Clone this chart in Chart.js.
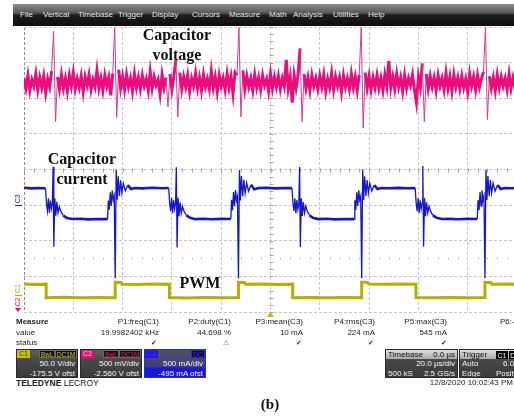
<!DOCTYPE html>
<html>
<head>
<meta charset="utf-8">
<script src="https://cdn.jsdelivr.net/npm/chart.js@4.4.1/dist/chart.umd.min.js"></script>
<style>
html, body { margin: 0; padding: 0; width: 514px; height: 420px; overflow: hidden; background: #fff; }
body { position: relative; font-family: "Liberation Sans", Arial, sans-serif; color: #1c1c1c; }
#menu { position: absolute; left: 13px; top: 4px; width: 501px; height: 22px;
  background: linear-gradient(#8c8c8c, #5c5c5c 38%, #1c1c1c 52%, #0e0e0e); }
.mi { position: absolute; top: 11px; font-size: 8px; line-height: 8px; color: #e6e6e6; }
#scope-wrap { position: absolute; left: 0; top: 27px; width: 517px; height: 292px; }
.note { position: absolute; font-family: "Liberation Serif", "Times New Roman", serif; font-weight: bold;
  font-size: 16px; line-height: 20px; color: #111; text-align: center; white-space: nowrap; }
.t { position: absolute; font-size: 8px; line-height: 10px; white-space: nowrap; }
.r { text-align: right; }
.box { position: absolute; top: 349px; height: 29px; overflow: hidden;
  background: linear-gradient(#5e5e5e, #474747 40%, #3a3a3a); border: 1px solid #2a2a2a; box-sizing: border-box; }
.box .t { color: #f2f2f2; }
.tab { position: absolute; left: 0; top: 0; width: 13px; height: 8px; font-size: 7px; line-height: 8px; text-align: center; }
.tag { position: absolute; top: 0; height: 8px; font-size: 6.5px; line-height: 8px; text-align: center;
  background: #111; border: 1px solid #6a6a6a; box-sizing: border-box; }
.hdr { position: absolute; left: 0; top: 0; width: 100%; height: 9px; background: linear-gradient(#e0e0e0, #a8a8a8); }
.hdr .t { color: #111; line-height: 9px; }
</style>
</head>
<body>

<div id="menu"></div>
<span class="mi" style="left:20px">File</span>
<span class="mi" style="left:43px">Vertical</span>
<span class="mi" style="left:78px">Timebase</span>
<span class="mi" style="left:118px">Trigger</span>
<span class="mi" style="left:152px">Display</span>
<span class="mi" style="left:192px">Cursors</span>
<span class="mi" style="left:229px">Measure</span>
<span class="mi" style="left:269px">Math</span>
<span class="mi" style="left:293px">Analysis</span>
<span class="mi" style="left:333px">Utilities</span>
<span class="mi" style="left:368px">Help</span>

<div id="scope-wrap"><canvas id="scope"></canvas></div>

<div class="note" style="left:137px; top:25px; width:80px">Capacitor<br>voltage</div>
<div class="note" style="left:42px; top:149px; width:80px">Capacitor<br>current</div>
<div class="note" style="left:170px; top:273px; width:60px">PWM</div>

<!-- measurement table -->
<div class="t" style="left:16px; top:317px; font-weight:bold">Measure</div>
<div class="t" style="left:16px; top:328px">value</div>
<div class="t" style="left:16px; top:338px">status</div>

<div class="t r" style="right:355px; top:317px">P1:freq(C1)</div>
<div class="t r" style="right:283px; top:317px">P2:duty(C1)</div>
<div class="t r" style="right:211px; top:317px">P3:mean(C3)</div>
<div class="t r" style="right:139px; top:317px">P4:rms(C3)</div>
<div class="t r" style="right:67px; top:317px">P5:max(C3)</div>
<div class="t" style="left:500px; top:317px">P6:- -</div>

<div class="t r" style="right:355px; top:328px">19.9982402 kHz</div>
<div class="t r" style="right:283px; top:328px">44.698 %</div>
<div class="t r" style="right:211px; top:328px">10 mA</div>
<div class="t r" style="right:139px; top:328px">224 mA</div>
<div class="t r" style="right:67px; top:328px">545 mA</div>

<div class="t" style="left:151px; top:338px; font-family:'DejaVu Sans'; font-size:7px; color:#333">✔</div>
<div class="t" style="left:223px; top:338px; font-family:'DejaVu Sans'; font-size:7px; color:#666">⚠</div>
<div class="t" style="left:296px; top:338px; font-family:'DejaVu Sans'; font-size:7px; color:#333">✔</div>
<div class="t" style="left:368px; top:338px; font-family:'DejaVu Sans'; font-size:7px; color:#333">✔</div>
<div class="t" style="left:441px; top:338px; font-family:'DejaVu Sans'; font-size:7px; color:#333">✔</div>

<!-- channel descriptors -->
<div class="box" style="left:16px; width:62px">
  <div class="tab" style="background:#c9c000; color:#3a3500">C1</div>
  <div class="tag" style="left:22px; width:16px; color:#d6cc00">BwL</div>
  <div class="tag" style="left:38px; width:22px; color:#d6cc00">DC1M</div>
  <div class="t r" style="right:2px; top:9px">50.0 V/div</div>
  <div class="t r" style="right:2px; top:19px">-175.5 V ofst</div>
</div>
<div class="box" style="left:80px; width:62px">
  <div class="tab" style="background:#e0127a; color:#ffc2e0">C2</div>
  <div class="tag" style="left:22px; width:16px; color:#e8146e">BwL</div>
  <div class="tag" style="left:38px; width:22px; color:#e8146e">DC1M</div>
  <div class="t r" style="right:2px; top:9px">500 mV/div</div>
  <div class="t r" style="right:2px; top:19px">-2.560 V ofst</div>
</div>
<div class="box" style="left:144px; width:62px; border-color:#2a2ae0;
  background:linear-gradient(#50506a, #3e3e78 62%, #1a1ad6 66%, #1414e0)">
  <div class="tab" style="background:#1c1ce0; color:#3030ff">C3</div>
  <div class="tag" style="left:46px; width:14px; color:#3434ff; background:#0c0c3a; border-color:#2a2a9a">DC</div>
  <div class="t r" style="right:2px; top:9px">500 mA/div</div>
  <div class="t r" style="right:2px; top:19px">-495 mA ofst</div>
</div>

<div class="box" style="left:385px; width:73px">
  <div class="hdr">
    <div class="t" style="left:2px; top:0">Timebase</div>
    <div class="t r" style="right:2px; top:0">0.0 µs</div>
  </div>
  <div class="t r" style="right:2px; top:9px">20.0 µs/div</div>
  <div class="t" style="left:2px; top:19px">500 kS</div>
  <div class="t r" style="right:2px; top:19px">2.5 GS/s</div>
</div>
<div class="box" style="left:459px; width:62px">
  <div class="hdr">
    <div class="t" style="left:2px; top:0">Trigger</div>
    <div class="tag" style="left:36px; top:0.5px; width:12px; color:#fff; background:#000; border-color:#000">C1</div>
    <div class="tag" style="left:49px; top:0.5px; width:12px; color:#fff; background:#000; border-color:#000">DC</div>
  </div>
  <div class="t" style="left:2px; top:9px">Auto</div>
  <div class="t" style="left:43px; top:9px">6.0</div>
  <div class="t" style="left:2px; top:19px">Edge</div>
  <div class="t" style="left:36px; top:19px">Positive</div>
</div>

<div class="t" style="left:16px; top:378px; font-size:8.5px; color:#222"><b>TELEDYNE</b> LECROY</div>
<div class="t r" style="right:1px; top:378px; color:#222">12/8/2020 10:02:43 PM</div>

<div class="note" style="left:240px; top:394px; width:60px; font-size:15px">(b)</div>

<script>
// channel setup: C1 = PWM, C2 = capacitor voltage, C3 = capacitor current
const channelNames = ['C1', 'C2', 'C3'];
const channelColors = ['#b8ae00', '#ee0c7c', '#1616cc'];
const perDiv = [50, 0.5, 500];          // V/div, V/div, mA/div
const offsets = [-175.5, -2.56, -495];  // V, V, mA
const timePerDiv = 20;                  // µs/div
const timeRange = [-100, 100];          // µs
const vertDivs = [-4, 4];

// C2 record, sampled every 0.8 µs from -100 µs (V)
const c2Step = 0.8;
const c2Volts = [
  3.84, 3.70, 3.88, 3.67, 3.82, 3.73, 3.90, 3.68, 3.85, 3.71,
  3.87, 3.64, 3.83, 3.72, 3.94, 4.50, 3.23, 3.86, 3.69, 3.89,
  3.70, 3.84, 3.66, 3.88, 3.73, 3.92, 3.69, 3.83, 3.71, 3.87,
  3.65, 3.86, 3.74, 3.89, 3.68, 3.82, 3.72, 3.95, 3.70, 3.84,
  3.67, 3.88, 3.73, 3.85, 3.60, 3.91, 4.55, 3.29, 3.96, 3.70,
  3.86, 3.68, 3.89, 3.72, 3.84, 3.66, 3.90, 3.71, 3.85, 3.69,
  3.88, 3.73, 3.83, 3.67, 3.93, 3.70, 3.86, 3.74, 3.82, 3.62,
  3.89, 3.71, 3.85, 3.44, 3.90, 3.68, 3.87, 4.10, 3.30, 3.92,
  3.69, 3.86, 3.72, 3.88, 3.66, 3.84, 3.73, 3.91, 3.70, 3.85,
  3.67, 3.89, 3.72, 3.83, 3.69, 3.94, 3.71, 3.86, 3.65, 3.88,
  3.73, 3.84, 3.68, 3.90, 3.71, 3.86, 3.62, 3.92, 3.88, 4.55,
  3.30, 3.95, 3.69, 3.87, 3.72, 3.84, 3.67, 3.89, 3.71, 3.85,
  3.68, 3.88, 3.74, 3.83, 3.66, 3.90, 3.70, 3.86, 3.72, 3.87,
  3.69, 3.84, 3.73, 4.10, 3.70, 3.86, 3.50, 3.88, 3.71, 3.89,
  4.26, 3.23, 3.90, 3.70, 3.85, 3.67, 3.88, 3.73, 3.84, 3.69,
  3.87, 3.72, 3.89, 3.66, 3.83, 3.71, 3.91, 3.68, 3.86, 3.73,
  3.85, 3.65, 3.88, 3.72, 3.84, 3.69, 3.90, 3.71, 3.86, 3.67,
  3.89, 4.55, 3.14, 3.92, 3.70, 3.87, 3.68, 3.85, 3.71, 3.88,
  3.70, 3.84, 3.67, 3.89, 3.73, 4.08, 3.71, 3.86, 3.69, 3.90,
  3.72, 3.85, 3.66, 3.88, 3.70, 3.84, 3.74, 3.89, 3.68, 3.50,
  3.86, 3.71, 4.05, 3.23, 3.90, 3.69, 3.87, 3.72, 3.85, 3.67,
  3.88, 3.73, 3.84, 3.68, 3.91, 3.70, 3.86, 3.66, 3.89, 3.72,
  3.85, 3.69, 3.87, 3.71, 3.83, 3.65, 3.90, 3.73, 3.86, 3.68,
  3.88, 3.72, 3.84, 3.93, 4.55, 3.26, 3.87, 3.70, 3.85, 3.67,
  3.89, 3.71, 3.86, 3.73, 3.84, 3.68, 3.90, 3.70, 3.85, 3.72, 3.87
];

// C3 capacitor current [µs, mA]
const c3Trace = [
  [-100, 238], [-97, 230], [-94, 236], [-91.3, 232],
  [-90.9, 25], [-90.5, -85], [-90.1, 90], [-89.7, -115], [-89.3, 60], [-88.9, -55], [-88.5, 20],
  [-88.2, 535], [-87.9, -590], [-87.5, 90], [-87.1, -155], [-86.7, 40], [-86.2, -112], [-85.7, -25],
  [-85.1, -90], [-84.1, -150], [-82.6, -185], [-80.5, -200], [-77, -196], [-74, -205], [-70, -199],
  [-66.1, -201],
  [-65.8, 60], [-65.4, -70], [-65.0, 175], [-64.6, -15], [-64.2, 200], [-63.8, 70], [-63.4, 125],
  [-63.0, -1030], [-62.6, 490], [-62.2, 70], [-61.8, 400], [-61.3, 125], [-60.8, 345], [-60.3, 165],
  [-59.7, 300], [-58.9, 195], [-57.9, 275], [-56.6, 222], [-55, 236], [-52, 230], [-48, 238],
  [-44, 232], [-41.3, 235],
  [-40.9, 20], [-40.5, -92], [-40.1, 98], [-39.7, -120], [-39.3, 62], [-38.9, -58], [-38.5, 25],
  [-38.2, 525], [-37.9, -600], [-37.5, 98], [-37.1, -162], [-36.7, 35], [-36.2, -118], [-35.7, -22],
  [-35.1, -92], [-34.1, -148], [-32.6, -183], [-30.5, -202], [-27, -197], [-24, -204], [-20, -198],
  [-16.1, -200],
  [-15.8, 68], [-15.4, -78], [-15.0, 180], [-14.6, -20], [-14.2, 208], [-13.8, 62], [-13.4, 118],
  [-13.0, -1035], [-12.6, 485], [-12.2, 62], [-11.8, 405], [-11.3, 120], [-10.8, 350], [-10.3, 160],
  [-9.7, 308], [-8.9, 190], [-7.9, 280], [-6.6, 218], [-5, 234], [-2, 238], [2, 230], [6, 236],
  [8.7, 233],
  [9.1, 28], [9.5, -88], [9.9, 92], [10.3, -118], [10.7, 68], [11.1, -62], [11.5, 18],
  [11.8, 530], [12.1, -595], [12.5, 92], [12.9, -158], [13.3, 38], [13.8, -115], [14.3, -18],
  [14.9, -88], [15.9, -152], [17.4, -186], [19.5, -201], [23, -197], [26, -205], [30, -199],
  [33.9, -202],
  [34.2, 64], [34.6, -72], [35.0, 176], [35.4, -18], [35.8, 204], [36.2, 66], [36.6, 120],
  [37.0, -1030], [37.4, 495], [37.8, 68], [38.2, 400], [38.7, 124], [39.2, 348], [39.7, 162],
  [40.3, 302], [41.1, 194], [42.1, 276], [43.4, 220], [45, 235], [48, 231], [52, 237], [56, 232],
  [58.7, 234],
  [59.1, 22], [59.5, -90], [59.9, 95], [60.3, -116], [60.7, 64], [61.1, -60], [61.5, 22],
  [61.8, 545], [62.1, -585], [62.5, 95], [62.9, -160], [63.3, 36], [63.8, -114], [64.3, -20],
  [64.9, -90], [65.9, -149], [67.4, -184], [69.5, -200], [73, -198], [76, -204], [80, -198],
  [83.9, -200],
  [84.2, 66], [84.6, -74], [85.0, 178], [85.4, -16], [85.8, 202], [86.2, 64], [86.6, 122],
  [87.0, -1032], [87.4, 488], [87.8, 66], [88.2, 402], [88.7, 122], [89.2, 346], [89.7, 164],
  [90.3, 304], [91.1, 192], [92.1, 278], [93.4, 221], [95, 235], [98, 231], [100, 236]
];

// C1 PWM gate signal [µs, V]
const c1Trace = [
  [-100, 14.8], [-96, 14.2], [-91, 14.6], [-91, -4.4], [-84, -3.9], [-77, -4.6], [-70, -4.1], [-63, -4.5],
  [-63, 17.4], [-60.6, 17.0], [-60.2, 14.6], [-54, 14.2], [-47, 14.8], [-41, 14.4],
  [-41, -4.2], [-34, -4.7], [-27, -4.0], [-20, -4.4], [-13, -4.3],
  [-13, 17.3], [-10.6, 16.9], [-10.2, 14.5], [-4, 14.9], [3, 14.2], [9, 14.6],
  [9, -4.5], [16, -4.0], [23, -4.6], [30, -4.1], [37, -4.4],
  [37, 17.5], [39.4, 17.0], [39.8, 14.7], [46, 14.3], [53, 14.8], [59, 14.4],
  [59, -4.3], [66, -4.6], [73, -4.0], [80, -4.5], [87, -4.2],
  [87, 17.2], [89.4, 16.8], [89.8, 14.5], [95, 14.9], [100, 14.4]
];

// dotted reference row below centre (divisions)
const refRowDiv = -2.48;

const toXY = pts => pts.map(p => ({ x: p[0], y: p[1] }));

function channelAxis(i) {
  return {
    display: false,
    min: vertDivs[0] * perDiv[i] - offsets[i],
    max: vertDivs[1] * perDiv[i] - offsets[i]
  };
}

// glitches on C2 are drawn thin and lighter, the noise band heavier
const c2Segment = {
  borderWidth: s => Math.abs(s.p1.parsed.y - s.p0.parsed.y) > 0.4 ? 1 : 3,
  borderColor: s => Math.abs(s.p1.parsed.y - s.p0.parsed.y) > 0.4 ? '#d23c92' : channelColors[1]
};
// C3 ringing drawn thin, settled levels heavier
const c3Segment = {
  borderWidth: s => (s.p1.parsed.x - s.p0.parsed.x) > 1.2 ? 2.6 : 1.3
};

const scopeMarks = {
  id: 'scopeMarks',
  beforeDatasetsDraw(chart) {
    const { ctx, scales } = chart;
    const xs = scales.x, ds = scales.div;
    const xc = Math.round(xs.getPixelForValue(0)) + 0.5;
    const yc = Math.round(ds.getPixelForValue(0)) + 0.5;
    const yr = Math.round(ds.getPixelForValue(refRowDiv)) + 0.5;
    const nx = (timeRange[1] - timeRange[0]) / timePerDiv * 5;
    const ny = (vertDivs[1] - vertDivs[0]) * 5;
    ctx.save();
    ctx.lineWidth = 1;
    ctx.strokeStyle = '#a4a4a4';
    ctx.beginPath();
    for (let k = 0; k <= nx; k++) {
      const px = Math.round(xs.getPixelForValue(timeRange[0] + k * timePerDiv / 5)) + 0.5;
      ctx.moveTo(px, yc - 2); ctx.lineTo(px, yc + 2);
    }
    for (let k = 0; k <= ny; k++) {
      const py = Math.round(ds.getPixelForValue(vertDivs[0] + k / 5)) + 0.5;
      ctx.moveTo(xc - 2, py); ctx.lineTo(xc + 2, py);
    }
    ctx.stroke();
    ctx.strokeStyle = '#bdbdbd';
    ctx.beginPath();
    for (let k = 1; k < nx; k++) {
      if (k % 5 === 0) continue;
      const px = Math.round(xs.getPixelForValue(timeRange[0] + k * timePerDiv / 5)) + 0.5;
      ctx.moveTo(px, yr - 1); ctx.lineTo(px, yr + 1);
    }
    ctx.stroke();
    ctx.restore();
  },
  afterDraw(chart) {
    const { ctx, chartArea: a, scales } = chart;
    ctx.save();
    ctx.font = '7px "Liberation Sans", Arial, sans-serif';
    ctx.textAlign = 'center';
    ctx.textBaseline = 'middle';
    channelNames.forEach((name, i) => {
      const g = scales['y' + name].getPixelForValue(0);
      ctx.fillStyle = channelColors[i];
      ctx.strokeStyle = channelColors[i];
      ctx.lineWidth = 1;
      let ty = g - 6;
      if (g > a.bottom) {
        // ground below the screen: arrow at the bottom edge
        ctx.beginPath();
        ctx.moveTo(15, a.bottom - 4); ctx.lineTo(21, a.bottom - 4); ctx.lineTo(18, a.bottom);
        ctx.closePath(); ctx.fill();
        ty = a.bottom - 10;
      } else {
        ctx.beginPath();
        ctx.moveTo(15, Math.round(g) + 0.5); ctx.lineTo(22, Math.round(g) + 0.5);
        ctx.stroke();
      }
      ctx.save();
      ctx.translate(18, ty);
      ctx.rotate(-Math.PI / 2);
      ctx.fillText(name, 0, 0);
      ctx.restore();
    });
    // trigger time marker
    const tx = scales.x.getPixelForValue(0);
    ctx.fillStyle = '#c8b800';
    ctx.beginPath();
    ctx.moveTo(tx, a.bottom); ctx.lineTo(tx + 3.5, a.bottom + 5); ctx.lineTo(tx - 3.5, a.bottom + 5);
    ctx.closePath(); ctx.fill();
    ctx.restore();
  }
};

const gridDash = [3, 2];

new Chart(document.getElementById('scope'), {
  type: 'line',
  data: {
    datasets: [
      {
        label: 'C3', data: toXY(c3Trace), yAxisID: 'yC3',
        borderColor: channelColors[2], borderWidth: 1.8, segment: c3Segment
      },
      {
        label: 'C2', yAxisID: 'yC2',
        data: c2Volts.map((v, i) => ({ x: timeRange[0] + i * c2Step, y: v })),
        borderColor: channelColors[1], borderWidth: 3, segment: c2Segment
      },
      {
        label: 'C1', data: toXY(c1Trace), yAxisID: 'yC1',
        borderColor: channelColors[0], borderWidth: 3
      }
    ]
  },
  options: {
    animation: false,
    responsive: true,
    maintainAspectRatio: false,
    devicePixelRatio: 1,
    events: [],
    layout: { padding: { left: 24, right: 0, top: 0, bottom: 7 } },
    elements: { line: { tension: 0 }, point: { radius: 0 } },
    plugins: { legend: { display: false }, tooltip: { enabled: false } },
    scales: {
      x: {
        type: 'linear', min: timeRange[0], max: timeRange[1],
        ticks: { display: false, stepSize: timePerDiv },
        grid: { drawTicks: false, color: c => c.index === 0 ? '#8c8c8c' : '#c8c8c8' },
        border: { display: false, dash: gridDash }
      },
      div: {
        type: 'linear', position: 'left', min: vertDivs[0], max: vertDivs[1],
        ticks: { display: false, stepSize: 1 },
        grid: { drawTicks: false, color: '#c8c8c8' },
        border: { display: false, dash: gridDash }
      },
      yC1: channelAxis(0),
      yC2: channelAxis(1),
      yC3: channelAxis(2)
    }
  },
  plugins: [scopeMarks]
});
</script>
</body>
</html>
